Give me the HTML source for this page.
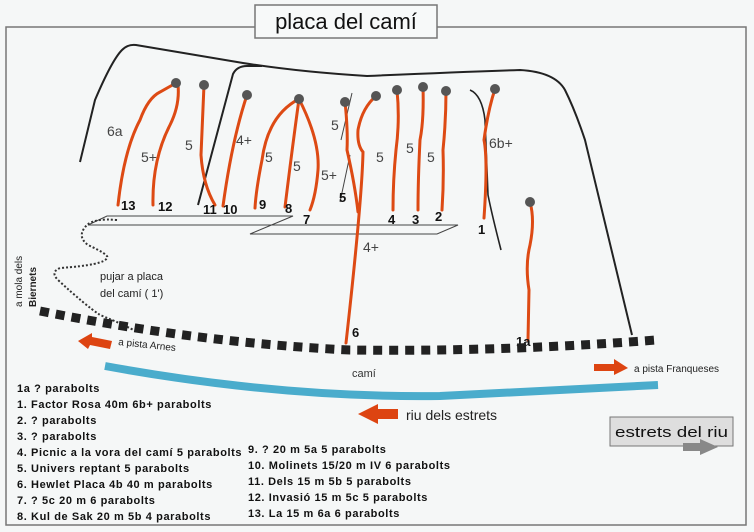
<!DOCTYPE html>
<html><head><style>
html,body{margin:0;padding:0;background:#f5f7f7;}
svg{display:block;}
text{font-family:"Liberation Sans",sans-serif;}
.g{font-size:14px;fill:#444;}
.n{font-size:13px;font-weight:bold;fill:#111;}
.l{font-size:11px;font-weight:bold;fill:#111;letter-spacing:0.6px;}
.r{fill:none;stroke:#dd4a14;stroke-width:3;stroke-linecap:round;}
.k{fill:none;stroke:#222;stroke-width:2;}
</style></head><body>
<svg width="754" height="532" viewBox="0 0 754 532">
<rect x="0" y="0" width="754" height="532" fill="#f5f7f7"/>
<rect x="6" y="27" width="740" height="498" fill="none" stroke="#777" stroke-width="1.5"/>
<rect x="255" y="5" width="182" height="33" fill="#f7f9f9" stroke="#777" stroke-width="1.5"/>
<text x="346" y="29" text-anchor="middle" style="font-size:22px;fill:#111">placa del camí</text>

<!-- cliff lines -->
<path class="k" d="M80,162 L95,100 Q112,60 122,50 Q128,44 136,45 L243,63 Q300,72 367,76 Q460,72 520,70 Q555,72 565,90 Q575,110 585,140 L632,335"/>
<path class="k" d="M198,205 L233,74 Q237,66 247,66 L262,66"/>
<path d="M470,90 Q482,95 485,120 L488,195 Q492,215 501,250" fill="none" stroke="#222" stroke-width="1.6"/>
<path d="M352,93 L341,140 M350,155 L340,202" fill="none" stroke="#444" stroke-width="1"/>

<!-- platforms -->
<path d="M107,216 L293,216 L250,234 L437,234 L458,225 L88,225 Z" fill="none" stroke="#444" stroke-width="1"/>
<path d="M117,220 Q95,218 87,225 Q76,236 88,245 Q110,255 107,258 Q104,265 60,268 Q50,272 58,280 Q85,305 100,315 Q125,325 137,332" fill="none" stroke="#333" stroke-width="2" stroke-dasharray="2 2"/>

<!-- routes -->
<path class="r" d="M118,205 Q124,150 140,120 Q148,98 160,92 L176,83"/>
<path class="r" d="M153,205 Q152,160 170,125 Q180,105 178,85"/>
<path class="r" d="M204,85 Q202,130 201,155 Q203,185 215,205"/>
<path class="r" d="M247,95 Q232,140 223,206"/>
<path class="r" d="M299,99 Q268,115 262,160 Q256,190 255,208"/>
<path class="r" d="M299,99 Q292,150 285,207"/>
<path class="r" d="M299,99 Q320,140 318,170 Q316,195 310,210"/>
<path class="r" d="M345,102 Q348,130 347,150 Q355,185 358,212"/>
<path class="r" d="M376,96 Q362,108 358,130 Q357,145 363,152 Q362,200 346,343"/>
<path class="r" d="M397,90 Q400,120 396,150 Q393,180 393,210"/>
<path class="r" d="M423,87 Q424,120 420,140 Q418,180 418,210"/>
<path class="r" d="M446,91 Q446,120 443,150 Q444,180 442,210"/>
<path class="r" d="M495,89 Q488,110 484,140 Q488,160 484,218"/>
<path class="r" d="M530,202 Q535,220 530,245 Q525,265 529,290 L528,340"/>
<g fill="#555">
<circle cx="176" cy="83" r="5"/><circle cx="204" cy="85" r="5"/><circle cx="247" cy="95" r="5"/>
<circle cx="299" cy="99" r="5"/><circle cx="345" cy="102" r="5"/><circle cx="376" cy="96" r="5"/>
<circle cx="397" cy="90" r="5"/><circle cx="423" cy="87" r="5"/><circle cx="446" cy="91" r="5"/>
<circle cx="495" cy="89" r="5"/><circle cx="530" cy="202" r="5"/>
</g>

<!-- grades -->
<text class="g" x="107" y="136">6a</text>
<text class="g" x="141" y="162">5+</text>
<text class="g" x="185" y="150">5</text>
<text class="g" x="236" y="145">4+</text>
<text class="g" x="265" y="162">5</text>
<text class="g" x="293" y="171">5</text>
<text class="g" x="321" y="180">5+</text>
<text class="g" x="331" y="130">5</text>
<text class="g" x="376" y="162">5</text>
<text class="g" x="406" y="153">5</text>
<text class="g" x="427" y="162">5</text>
<text class="g" x="489" y="148">6b+</text>
<text class="g" x="363" y="252">4+</text>

<!-- numbers -->
<text class="n" x="121" y="210">13</text>
<text class="n" x="158" y="211">12</text>
<text class="n" x="203" y="214">11</text>
<text class="n" x="223" y="214">10</text>
<text class="n" x="259" y="209">9</text>
<text class="n" x="285" y="213">8</text>
<text class="n" x="303" y="224">7</text>
<text class="n" x="339" y="202">5</text>
<text class="n" x="388" y="224">4</text>
<text class="n" x="412" y="224">3</text>
<text class="n" x="435" y="221">2</text>
<text class="n" x="478" y="234">1</text>
<text class="n" x="352" y="337">6</text>
<text class="n" x="516" y="346">1a</text>

<!-- road -->
<path d="M40,311 Q200,343 350,350 Q500,352 656,340" fill="none" stroke="#222" stroke-width="9" stroke-dasharray="9 7"/>
<!-- river -->
<path d="M105,366 Q280,398 440,396 L658,385" fill="none" stroke="#4aaccc" stroke-width="8"/>

<text x="352" y="377" style="font-size:11px;fill:#333">camí</text>
<text x="100" y="280" style="font-size:11px;fill:#222">pujar a placa</text>
<text x="100" y="297" style="font-size:11px;fill:#222">del camí ( 1')</text>
<text transform="translate(22,307) rotate(-90)" style="font-size:10px;fill:#222">a mola dels</text>
<text transform="translate(36,307) rotate(-90)" style="font-size:10px;font-weight:bold;fill:#222">Biernets</text>
<text transform="translate(118,345) rotate(6)" style="font-size:10px;fill:#222">a pista Arnes</text>
<polygon points="78,341 92,333 92,337 112,341 110,349 90,345 88,349" fill="#dd4411"/>
<polygon points="594,364 614,364 614,359 628,368 614,375 614,371 594,371" fill="#dd4411"/>
<text x="634" y="372" style="font-size:10px;fill:#222">a pista Franqueses</text>
<polygon points="358,414 378,404 378,409 398,409 398,419 378,419 378,424" fill="#dd4411"/>
<text x="406" y="420" style="font-size:14px;fill:#222">riu dels estrets</text>
<rect x="610" y="417" width="123" height="29" fill="#dedede" stroke="#777" stroke-width="1"/>
<text x="615" y="437" style="font-size:15px;fill:#111" textLength="113" lengthAdjust="spacingAndGlyphs">estrets del riu</text>
<polygon points="683,443 700,443 700,439 718,447 700,455 700,451 683,451" fill="#888"/>

<!-- legend -->
<text class="l" x="17" y="392">1a ? parabolts</text>
<text class="l" x="17" y="408">1.  Factor Rosa 40m 6b+ parabolts</text>
<text class="l" x="17" y="424">2.  ? parabolts</text>
<text class="l" x="17" y="440">3.  ? parabolts</text>
<text class="l" x="17" y="456">4.  Picnic a la vora del camí 5 parabolts</text>
<text class="l" x="17" y="472">5.  Univers reptant 5 parabolts</text>
<text class="l" x="17" y="488">6.  Hewlet Placa 4b 40 m parabolts</text>
<text class="l" x="17" y="504">7.  ? 5c  20 m 6 parabolts</text>
<text class="l" x="17" y="520">8.  Kul de Sak  20 m 5b 4 parabolts</text>
<text class="l" x="248" y="453">9.  ? 20 m 5a 5 parabolts</text>
<text class="l" x="248" y="469">10.  Molinets 15/20 m IV  6 parabolts</text>
<text class="l" x="248" y="485">11.  Dels 15 m 5b 5 parabolts</text>
<text class="l" x="248" y="501">12.  Invasió 15 m 5c 5 parabolts</text>
<text class="l" x="248" y="517">13.  La 15 m 6a  6 parabolts</text>
</svg>
</body></html>
